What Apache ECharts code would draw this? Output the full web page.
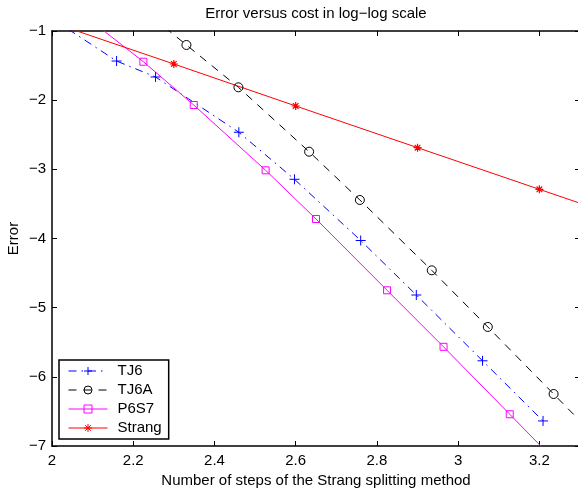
<!DOCTYPE html>
<html>
<head>
<meta charset="utf-8">
<script src="https://cdn.jsdelivr.net/npm/echarts@6/dist/echarts.min.js"></script>
<style>
  html, body { margin: 0; padding: 0; background: #fff; }
  #chart { width: 578px; height: 488px; }
</style>
</head>
<body>
<div id="chart"></div>
<script>
// Axis ranges and tick labels
const xTicks = [2, 2.2, 2.4, 2.6, 2.8, 3, 3.2];
const yTicks = [-7, -6, -5, -4, -3, -2, -1];
const xMax = 3.3;

const seriesNames = ['TJ6', 'TJ6A', 'P6S7', 'Strang'];

// log10(steps) vs log10(error) at the marked runs
const tj6X = [2.159, 2.255, 2.460, 2.597, 2.760, 2.897, 3.060, 3.209];
const tj6Y = [-1.434, -1.665, -2.464, -3.144, -4.029, -4.817, -5.768, -6.638];
const tj6Start = [2.00, -0.82];
const tj6End = null;

const tj6aX = [2.331, 2.459, 2.633, 2.758, 2.935, 3.073, 3.235];
const tj6aY = [-1.202, -1.814, -2.745, -3.443, -4.460, -5.279, -6.248];
const tj6aStart = [2.25, -0.815];
const tj6aEnd = [3.30, -6.637];

const p6s7X = [2.225, 2.349, 2.526, 2.650, 2.825, 2.964, 3.127];
const p6s7Y = [-1.444, -2.070, -3.014, -3.718, -4.749, -5.566, -6.541];
const p6s7Start = [2.10, -0.872];
const p6s7End = [3.25, -7.28];

const strangX = [2.30, 2.60, 2.90, 3.20];
const strangY = [-1.477, -2.084, -2.687, -3.289];
const strangStart = [2.00, -0.877];
const strangEnd = [3.30, -3.49];

const FONT = '"Liberation Sans", Arial, Helvetica, sans-serif';
const tickText = v => String(Math.round(v * 10) / 10).replace('-', '\u2212');

// MATLAB-like marker shapes
const PLUS = 'path://M0,5L10,5M5,0L5,10';
const STAR = 'path://M0,5L10,5M5,0L5,10M1.5,1.5L8.5,8.5M1.5,8.5L8.5,1.5';

function buildData(xs, ys, start, end) {
  const d = [];
  if (start) d.push({ value: start, symbol: 'none' });
  xs.forEach((x, i) => d.push([x, ys[i]]));
  if (end) d.push({ value: end, symbol: 'none' });
  return d;
}

function lineSeries(name, data, color, dash, symbol, size, markerWidth) {
  return {
    name, type: 'line', data,
    symbol, symbolSize: size,
    showSymbol: true,
    clip: true,
    lineStyle: { color, width: 1, type: dash },
    itemStyle: { color: 'rgba(0,0,0,0)', borderColor: color, borderWidth: markerWidth },
    emphasis: { disabled: true },
    z: 2
  };
}

const tickStyle = { show: true, inside: true, length: 5, lineStyle: { color: '#000', width: 1 } };
const lineAx = { show: true, lineStyle: { color: '#000', width: 1.5 } };

const chart = echarts.init(document.getElementById('chart'), null, { renderer: 'canvas' });
chart.setOption({
  animation: false,
  backgroundColor: '#fff',
  textStyle: { fontFamily: FONT },
  grid: { left: 52, top: 31, width: 528, height: 415, containLabel: false, outerBoundsMode: 'none' },
  xAxis: [
    {
      type: 'value', position: 'bottom',
      min: xTicks[0], max: xMax, interval: 0.2,
      axisLine: lineAx, axisTick: tickStyle, splitLine: { show: false },
      axisLabel: { show: true, color: '#000', fontSize: 15, fontFamily: FONT, margin: 7,
                   showMaxLabel: false, formatter: tickText },
      name: 'Number of steps of the Strang splitting method',
      nameLocation: 'middle', nameGap: 24,
      nameTextStyle: { color: '#000', fontSize: 15, fontFamily: FONT }
    },
    {
      type: 'value', position: 'top',
      min: xTicks[0], max: xMax, interval: 0.2,
      axisLine: lineAx, axisTick: tickStyle, splitLine: { show: false },
      axisLabel: { show: false },
      name: 'Error versus cost in log\u2212log scale',
      nameLocation: 'middle', nameGap: 10,
      nameTextStyle: { color: '#000', fontSize: 15, fontFamily: FONT }
    }
  ],
  yAxis: [
    {
      type: 'value', position: 'left',
      min: yTicks[0], max: yTicks[yTicks.length - 1], interval: 1,
      axisLine: lineAx, axisTick: tickStyle, splitLine: { show: false },
      axisLabel: { show: true, color: '#000', fontSize: 15, fontFamily: FONT, margin: 6, formatter: tickText },
      name: 'Error', nameLocation: 'middle', nameGap: 31, nameRotate: 90,
      nameMoveOverlap: false,
      nameTextStyle: { color: '#000', fontSize: 15, fontFamily: FONT }
    },
    {
      type: 'value', position: 'right',
      min: yTicks[0], max: yTicks[yTicks.length - 1], interval: 1,
      axisLine: lineAx, axisTick: tickStyle, splitLine: { show: false },
      axisLabel: { show: false }
    }
  ],
  legend: {
    orient: 'vertical', left: 59, top: 360,
    padding: [3.5, 7, 3.5, 9],
    itemWidth: 39, itemHeight: 10, itemGap: 4,
    borderColor: '#000', borderWidth: 1.5, borderRadius: 0, backgroundColor: '#fff',
    lineStyle: { width: 1 },
    itemStyle: { borderWidth: 1 },
    textStyle: { fontSize: 15, color: '#000', fontFamily: FONT, padding: [0, 0, 0, 5] },
    selectedMode: false,
    data: seriesNames
  },
  series: [
    lineSeries(seriesNames[0], buildData(tj6X, tj6Y, tj6Start, tj6End), '#0000ff', [8, 5, 1.5, 5], PLUS, 10, 1),
    lineSeries(seriesNames[1], buildData(tj6aX, tj6aY, tj6aStart, tj6aEnd), '#000000', [8, 7], 'circle', 9, 1),
    lineSeries(seriesNames[2], buildData(p6s7X, p6s7Y, p6s7Start, p6s7End), '#ff00ff', 'solid', 'rect', 7, 1),
    lineSeries(seriesNames[3], buildData(strangX, strangY, strangStart, strangEnd), '#ff0000', 'solid', STAR, 8, 1.2)
  ]
});
</script>
</body>
</html>
